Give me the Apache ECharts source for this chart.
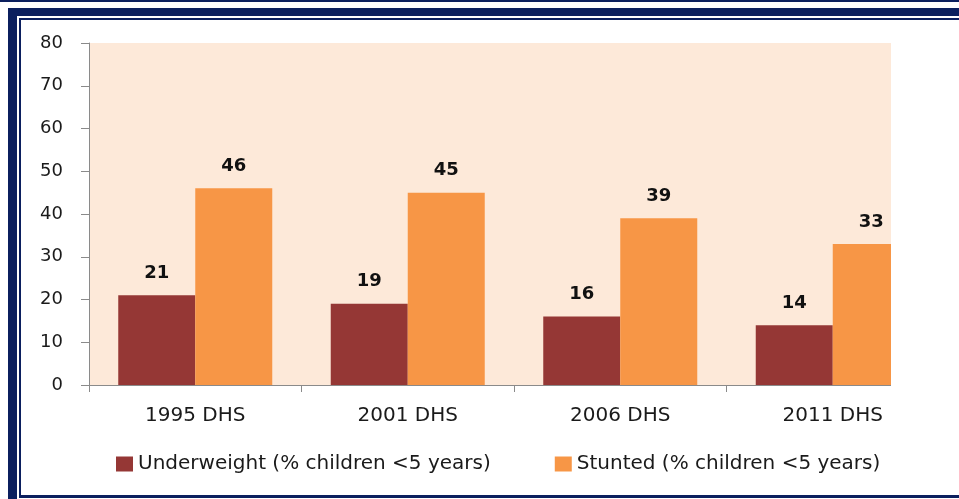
<!DOCTYPE html>
<html>
<head>
<meta charset="utf-8">
<script src="https://cdn.jsdelivr.net/npm/echarts@6/dist/echarts.min.js"></script>
<style>
  html, body { margin: 0; padding: 0; background: #ffffff; }
  #chart { width: 959px; height: 499px; }
</style>
</head>
<body>
<div id="chart"></div>
<script>
// Survey rounds and malnutrition indicators (% of children under 5)
const surveys = ['1995 DHS', '2001 DHS', '2006 DHS', '2011 DHS'];
const underweight = [21, 19, 16, 14];
const stunted = [46, 45, 39, 33];
const yTicks = { min: 0, max: 80, step: 10 };
const seriesNames = ['Underweight (% children <5 years)', 'Stunted (% children <5 years)'];

const NAVY = '#0b1f5e';
const FONT = 'DejaVu Sans';

const chart = echarts.init(document.getElementById('chart'), null, { renderer: 'canvas' });

const valueLabel = {
  show: true,
  position: 'top',
  distance: 13,
  fontFamily: FONT,
  fontSize: 18,
  fontWeight: 'bold',
  color: '#111'
};

chart.setOption({
  animation: false,
  backgroundColor: '#ffffff',
  grid: {
    left: 89,
    right: 20,
    top: 43,
    bottom: 114,
    show: true,
    backgroundColor: '#FDE9D9',
    borderWidth: 0
  },
  legend: {
    left: 111,
    top: 449,
    itemWidth: 17,
    itemHeight: 15,
    itemGap: 64,
    icon: 'rect',
    textStyle: { fontFamily: FONT, fontSize: 20, color: '#1a1a1a' },
    data: seriesNames
  },
  xAxis: {
    type: 'category',
    data: surveys,
    axisLine: { lineStyle: { color: '#8a8a8a', width: 1 } },
    axisTick: { show: true, length: 7, lineStyle: { color: '#8a8a8a' } },
    axisLabel: { fontFamily: FONT, fontSize: 20, color: '#1a1a1a', margin: 21 },
    splitLine: { show: false }
  },
  yAxis: {
    type: 'value',
    min: yTicks.min,
    max: yTicks.max,
    interval: yTicks.step,
    axisLine: { show: true, lineStyle: { color: '#8a8a8a', width: 1 } },
    axisTick: { show: true, length: 8, lineStyle: { color: '#8a8a8a' } },
    axisLabel: { fontFamily: FONT, fontSize: 18, color: '#1a1a1a', margin: 26 },
    splitLine: { show: false }
  },
  series: [
    {
      name: seriesNames[0],
      type: 'bar',
      data: underweight,
      barWidth: 77,
      barGap: '0%',
      itemStyle: { color: '#953735' },
      label: valueLabel
    },
    {
      name: seriesNames[1],
      type: 'bar',
      data: stunted,
      barWidth: 77,
      barGap: '0%',
      itemStyle: { color: '#F79646' },
      label: valueLabel
    }
  ],
  graphic: [
    // plot area ends short of the last category band
    { type: 'rect', z: 100, shape: { x: 891, y: 24, width: 68, height: 368 }, style: { fill: '#ffffff' } },
    // frame: double navy rules along top, left and bottom
    { type: 'rect', z: 110, shape: { x: 0, y: 0, width: 959, height: 2 }, style: { fill: NAVY } },
    { type: 'rect', z: 110, shape: { x: 8, y: 8, width: 951, height: 8 }, style: { fill: NAVY } },
    { type: 'rect', z: 110, shape: { x: 8, y: 8, width: 9, height: 491 }, style: { fill: NAVY } },
    { type: 'rect', z: 110, shape: { x: 19, y: 18, width: 940, height: 2 }, style: { fill: NAVY } },
    { type: 'rect', z: 110, shape: { x: 19, y: 18, width: 2, height: 479 }, style: { fill: NAVY } },
    { type: 'rect', z: 110, shape: { x: 19, y: 495, width: 940, height: 3 }, style: { fill: NAVY } }
  ]
});
</script>
</body>
</html>
